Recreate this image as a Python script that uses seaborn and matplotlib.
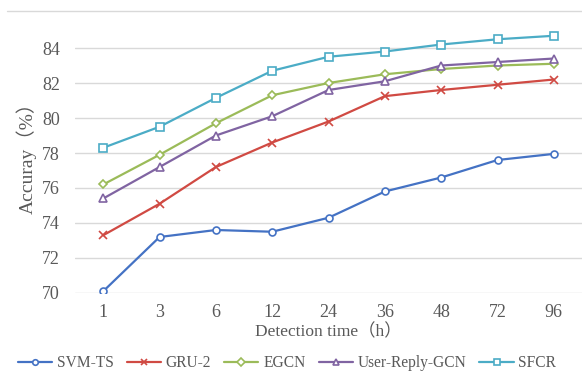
import numpy as np
import pandas as pd
import seaborn as sns
import matplotlib.pyplot as plt
from matplotlib.lines import Line2D

# Data
hours = ['1', '3', '6', '12', '24', '36', '48', '72', '96']
svm_ts = [70.1, 73.2, 73.6, 73.5, 74.3, 75.8, 76.6, 77.6, 77.95]
gru_2 = [73.3, 75.1, 77.2, 78.6, 79.8, 81.25, 81.6, 81.9, 82.2]
egcn = [76.2, 77.9, 79.7, 81.3, 82.0, 82.5, 82.8, 83.0, 83.1]
user_reply_gcn = [75.4, 77.2, 79.0, 80.1, 81.6, 82.1, 83.0, 83.2, 83.4]
sfcr = [78.3, 79.5, 81.15, 82.7, 83.5, 83.8, 84.2, 84.5, 84.7]

models = ['SVM-TS', 'GRU-2', 'EGCN', 'User-Reply-GCN', 'SFCR']
series = [svm_ts, gru_2, egcn, user_reply_gcn, sfcr]

df = pd.DataFrame({
    'time': hours * len(models),
    'model': np.repeat(models, len(hours)),
    'acc': np.concatenate(series),
})

sns.set_theme(style='white')
plt.rcParams['font.family'] = ['Liberation Serif', 'Noto Sans CJK SC']
text_color = '#595959'

colors = ['#4472C4', '#D04A43', '#9BBB59', '#8064A2', '#4BACC6']
markers = ['o', 'x', 'D', '^', 's']
msizes = [5, 6, 4, 6, 6]

fig = plt.figure(figsize=(5.82, 3.72), dpi=100)
ax = fig.add_axes([0.129, 0.2124, 0.871, 0.7526])

for m, c, mk, ms in zip(models, colors, markers, msizes):
    sns.lineplot(data=df[df.model == m], x='time', y='acc', ax=ax, color=c,
                 marker=mk, markersize=ms, markerfacecolor='white',
                 markeredgecolor=c, markeredgewidth=1.2, linewidth=1.6,
                 label=m, sort=False)

ax.set_xlim(-0.5, len(hours) - 0.5)
ax.set_ylim(70, 86)
ax.set_yticks(np.arange(70, 85, 2))
ax.grid(axis='y', color='#D9D9D9', linewidth=1)
ax.set_axisbelow(True)
for s in ax.spines.values():
    s.set_visible(False)
ax.tick_params(axis='both', length=0, labelsize=13, colors=text_color)
ax.tick_params(axis='y', pad=11)
ax.tick_params(axis='x', pad=8)
ax.set_xlabel('Detection time（h）', fontsize=12.5, color=text_color, labelpad=2)
ax.set_ylabel('Accuray（%）', fontsize=14, color=text_color, labelpad=4)

leg = ax.legend(loc='upper center', bbox_to_anchor=(0.418, -0.222), ncol=5,
                frameon=False, fontsize=11.2, labelcolor=text_color,
                handlelength=2.2, columnspacing=0.85, handletextpad=0.3,
                borderaxespad=0, borderpad=0)
for h in leg.legend_handles:
    h.set_markersize(4)

fig.add_artist(Line2D([0.012, 1.0], [0.97, 0.97], color='#D9D9D9', linewidth=1))

fig.savefig('out.png', dpi=100)
